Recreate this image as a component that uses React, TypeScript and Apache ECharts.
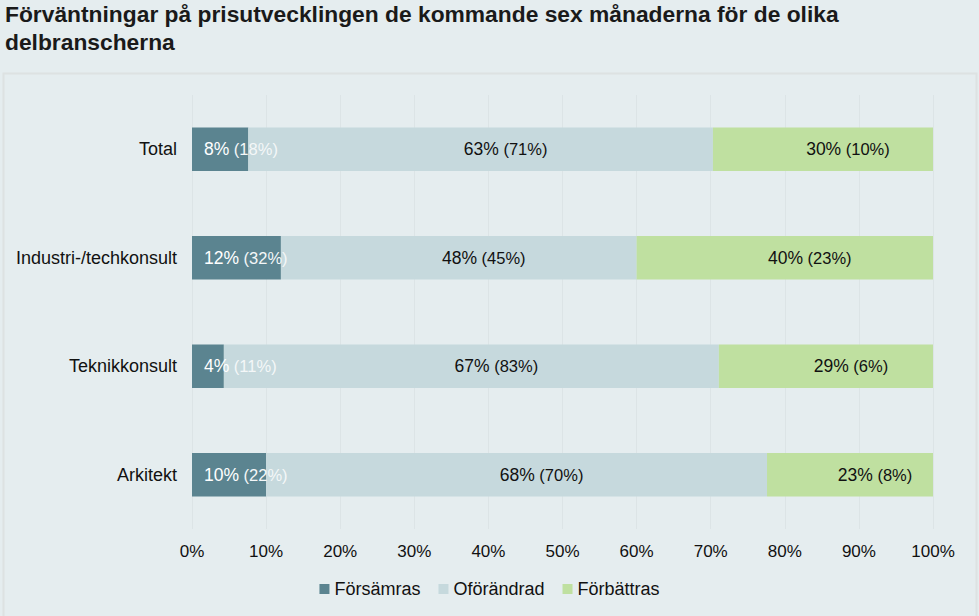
import React, { useEffect, useRef } from "react";
import * as echarts from "echarts";

const categories = ["Total", "Industri-/techkonsult", "Teknikkonsult", "Arkitekt"];
const seriesNames = ["Försämras", "Oförändrad", "Förbättras"];
const forsamras = [7.6, 12.0, 4.3, 10.0];
const oforandrad = [62.7, 48.0, 66.8, 67.6];
const forbattras = [29.7, 40.0, 28.9, 22.4];
const forsamrasLabels = ["8%", "12%", "4%", "10%"];
const oforandradLabels = ["63%", "48%", "67%", "68%"];
const forbattrasLabels = ["30%", "40%", "29%", "23%"];
const forsamrasPrev = ["(18%)", "(32%)", "(11%)", "(22%)"];
const oforandradPrev = ["(71%)", "(45%)", "(83%)", "(70%)"];
const forbattrasPrev = ["(10%)", "(23%)", "(6%)", "(8%)"];
const xTicks = [0, 10, 20, 30, 40, 50, 60, 70, 80, 90, 100];

const colors = ["#5b8490", "#c6d9dd", "#bfe0a0"];
const FONT = "'Liberation Sans', Arial, sans-serif";

export default function App() {
  const ref = useRef<HTMLDivElement>(null);
  useEffect(() => {
    document.body.style.margin = "0";
    document.body.style.background = "#e5edef";
    const chart = echarts.init(ref.current!, null, { renderer: "svg" });
    const mk = (
      name: string,
      values: number[],
      main: string[],
      prev: string[],
      idx: number
    ) => ({
      name,
      type: "bar",
      stack: "s",
      barWidth: "40%",
      itemStyle: { color: colors[idx] },
      data: values,
      label: {
        show: true,
        position: idx === 0 ? "insideLeft" : "inside",
        distance: 12,
        offset: idx === 0 ? [0, 0] : [25, 0],
        fontFamily: FONT,
        formatter: (p: any) => `{a|${main[p.dataIndex]}}{b| ${prev[p.dataIndex]}}`,
        rich: {
          a: {
            fontSize: 17.5,
            fontFamily: FONT,
            color: idx === 0 ? "#ffffff" : "#111111",
          },
          b: {
            fontSize: 16.5,
            fontFamily: FONT,
            color: idx === 0 ? "#f4f7f8" : "#111111",
          },
        },
      },
    });
    chart.setOption({
      animation: false,
      backgroundColor: "#e5edef",
      textStyle: { fontFamily: FONT },
      graphic: [
        {
          type: "rect",
          shape: { x: 3.5, y: 73.5, width: 973, height: 560 },
          style: { fill: "#e5edef", stroke: "#dde2e2", lineWidth: 2 },
          z: -10,
        },
        {
          type: "text",
          left: 5,
          top: 0,
          style: {
            text: "Förväntningar på prisutvecklingen de kommande sex månaderna för de olika\ndelbranscherna",
            font: `bold 22.8px ${FONT}`,
            lineHeight: 28,
            fill: "#1a1a1a",
          },
        },
      ],
      grid: { left: 192, right: 46, top: 95, bottom: 87, containLabel: false },
      legend: {
        bottom: 13,
        left: "center",
        itemWidth: 10,
        itemHeight: 10,
        itemGap: 18,
        icon: "rect",
        textStyle: { fontSize: 18, color: "#111", fontFamily: FONT },
        data: seriesNames,
      },
      xAxis: {
        type: "value",
        min: 0,
        max: 100,
        interval: 10,
        axisLine: { show: false },
        axisTick: { show: false },
        splitLine: { show: true, lineStyle: { color: "#dce4e6", width: 1 } },
        axisLabel: {
          fontSize: 17,
          color: "#111",
          margin: 14,
          fontFamily: FONT,
          formatter: (v: number) => (xTicks.includes(v) ? `${v}%` : ""),
        },
      },
      yAxis: {
        type: "category",
        inverse: true,
        data: categories,
        axisLine: { show: false },
        axisTick: { show: false },
        axisLabel: { fontSize: 18, color: "#111", margin: 15, fontFamily: FONT },
      },
      series: [
        mk(seriesNames[0], forsamras, forsamrasLabels, forsamrasPrev, 0),
        mk(seriesNames[1], oforandrad, oforandradLabels, oforandradPrev, 1),
        mk(seriesNames[2], forbattras, forbattrasLabels, forbattrasPrev, 2),
      ],
    });
    return () => chart.dispose();
  }, []);
  return <div ref={ref} style={{ width: 979, height: 616 }} />;
}
